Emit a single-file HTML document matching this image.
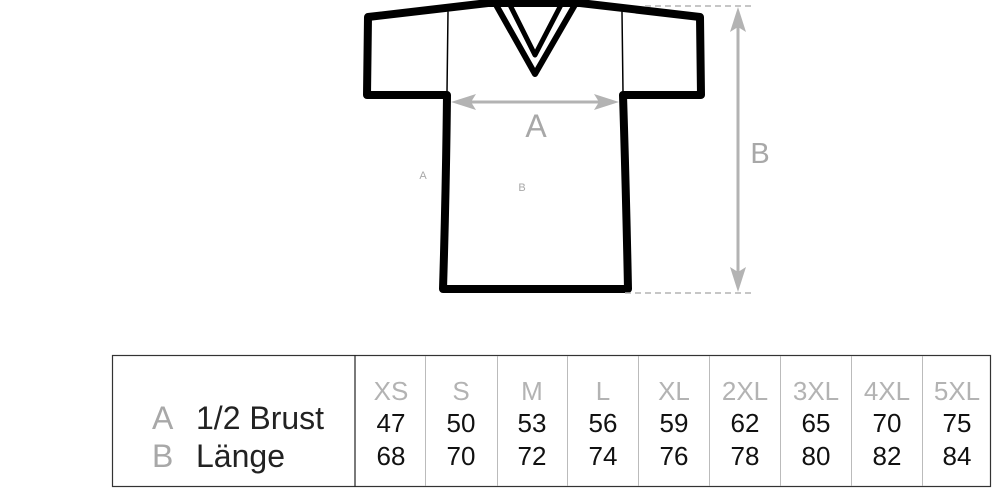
<!DOCTYPE html>
<html><head><meta charset="utf-8"><style>
html,body{margin:0;padding:0;background:#fff;width:993px;height:488px;overflow:hidden}
svg{display:block;font-family:"Liberation Sans",Arial,sans-serif}
</style></head><body>
<svg width="993" height="488" viewBox="0 0 993 488" xmlns="http://www.w3.org/2000/svg">
<g fill="none" stroke="#000" stroke-linejoin="round" stroke-linecap="round">
<path d="M368,17 L488,3 L580,3 L700,17 L701,95 L623,95 Q626,190 628,289 L443,289 Q446,190 447,95 L367,95 Z" stroke-width="8" fill="#fff"/>
<path d="M495,3 L535,74 L576,3" stroke-width="6"/>
<path d="M509,3 L535,55 L562,3" stroke-width="5"/>
<line x1="448" y1="12" x2="447" y2="92" stroke-width="1.5"/>
<line x1="622" y1="12" x2="623" y2="92" stroke-width="1.5"/>
</g>
<g stroke="#b3b3b3" fill="#b3b3b3">
<line x1="460" y1="102" x2="610" y2="102" stroke-width="3"/>
<path d="M451,102 L476,94 L471,102 L476,110 Z" stroke="none"/>
<path d="M619,102 L594,94 L599,102 L594,110 Z" stroke="none"/>
<line x1="738" y1="20" x2="738" y2="280" stroke-width="3"/>
<path d="M738,7 L730,32 L738,27 L746,32 Z" stroke="none"/>
<path d="M738,292 L730,267 L738,272 L746,267 Z" stroke="none"/>
<line x1="645" y1="6" x2="755" y2="6" stroke-width="1.5" stroke-dasharray="6,4" fill="none"/>
<line x1="625" y1="293" x2="755" y2="293" stroke-width="1.5" stroke-dasharray="6,4" fill="none"/>
</g>
<g fill="#a8a8a8">
<text x="536" y="137" font-size="32" text-anchor="middle">A</text>
<text x="760" y="163" font-size="29" text-anchor="middle">B</text>
<text x="423" y="179" font-size="11" text-anchor="middle">A</text>
<text x="522" y="191" font-size="11" text-anchor="middle">B</text>
</g>
<rect x="112.5" y="355.5" width="878" height="131" fill="none" stroke="#333" stroke-width="1.2"/>
<line x1="355" y1="355" x2="355" y2="487" stroke="#222" stroke-width="1.2"/>
<g stroke="#bbb" stroke-width="1">
<line x1="425.5" y1="356" x2="425.5" y2="486"/>
<line x1="497.5" y1="356" x2="497.5" y2="486"/>
<line x1="567.5" y1="356" x2="567.5" y2="486"/>
<line x1="638.5" y1="356" x2="638.5" y2="486"/>
<line x1="709.5" y1="356" x2="709.5" y2="486"/>
<line x1="780.5" y1="356" x2="780.5" y2="486"/>
<line x1="851.5" y1="356" x2="851.5" y2="486"/>
<line x1="922.5" y1="356" x2="922.5" y2="486"/>
</g>
<g font-size="32">
<text x="152" y="429" fill="#a8a8a8">A</text>
<text x="152" y="467" fill="#a8a8a8">B</text>
<text x="196" y="429" fill="#222">1/2 Brust</text>
<text x="196" y="467" fill="#222">Länge</text>
</g>
<g font-size="26" text-anchor="middle">
<g fill="#b3b3b3">
<text x="391" y="400">XS</text><text x="461" y="400">S</text><text x="532" y="400">M</text><text x="603" y="400">L</text><text x="674" y="400">XL</text><text x="745" y="400">2XL</text><text x="816" y="400">3XL</text><text x="887" y="400">4XL</text><text x="957" y="400">5XL</text>
</g>
<g fill="#111">
<text x="391" y="432">47</text><text x="461" y="432">50</text><text x="532" y="432">53</text><text x="603" y="432">56</text><text x="674" y="432">59</text><text x="745" y="432">62</text><text x="816" y="432">65</text><text x="887" y="432">70</text><text x="957" y="432">75</text>
<text x="391" y="465">68</text><text x="461" y="465">70</text><text x="532" y="465">72</text><text x="603" y="465">74</text><text x="674" y="465">76</text><text x="745" y="465">78</text><text x="816" y="465">80</text><text x="887" y="465">82</text><text x="957" y="465">84</text>
</g>
</g>
</svg>
</body></html>
